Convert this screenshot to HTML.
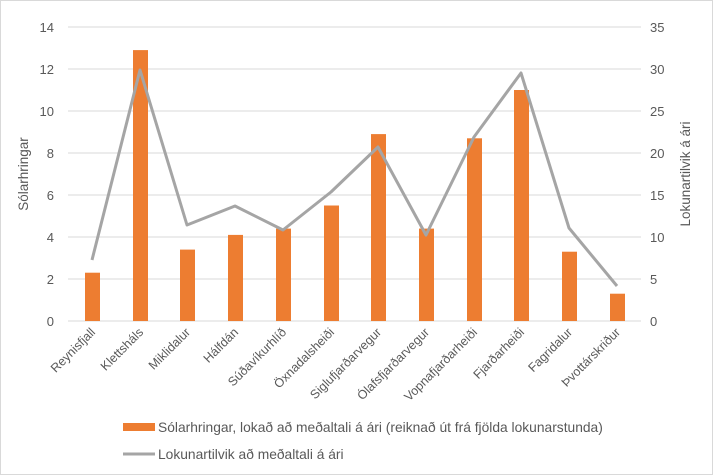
<!DOCTYPE html>
<html><head><meta charset="utf-8"><style>
html,body{margin:0;padding:0;background:#fff}
svg{display:block;font-family:"Liberation Sans",sans-serif}
</style></head><body>
<svg width="713" height="475" viewBox="0 0 713 475">
<rect x="0.5" y="0.5" width="712" height="474" fill="#fff" stroke="#d9d9d9"/>
<g stroke="#d9d9d9" stroke-width="1">
<line x1="68" x2="641" y1="27" y2="27"/>
<line x1="68" x2="641" y1="69" y2="69"/>
<line x1="68" x2="641" y1="111" y2="111"/>
<line x1="68" x2="641" y1="153" y2="153"/>
<line x1="68" x2="641" y1="195" y2="195"/>
<line x1="68" x2="641" y1="237" y2="237"/>
<line x1="68" x2="641" y1="279" y2="279"/>
<line x1="68" x2="641" y1="321" y2="321"/>
</g>
<g fill="#595959" font-size="13" text-anchor="end">
<text x="54" y="32">14</text><text x="54" y="74">12</text><text x="54" y="116">10</text>
<text x="54" y="158">8</text><text x="54" y="200">6</text><text x="54" y="242">4</text>
<text x="54" y="284">2</text><text x="54" y="326">0</text>
</g>
<g fill="#595959" font-size="13" text-anchor="start">
<text x="650" y="32">35</text><text x="650" y="74">30</text><text x="650" y="116">25</text>
<text x="650" y="158">20</text><text x="650" y="200">15</text><text x="650" y="242">10</text>
<text x="650" y="284">5</text><text x="650" y="326">0</text>
</g>
<text transform="translate(28,174) rotate(-90)" text-anchor="middle" fill="#595959" font-size="13.5">Sólarhringar</text>
<text transform="translate(690,174) rotate(-90)" text-anchor="middle" fill="#595959" font-size="13.5">Lokunartilvik á ári</text>
<g fill="#ed7d31">
<rect x="85" y="272.7" width="15" height="48.3"/>
<rect x="133" y="50.1" width="15" height="270.9"/>
<rect x="180" y="249.6" width="15" height="71.4"/>
<rect x="228" y="234.9" width="15" height="86.1"/>
<rect x="276" y="228.6" width="15" height="92.4"/>
<rect x="324" y="205.5" width="15" height="115.5"/>
<rect x="371" y="134.1" width="15" height="186.9"/>
<rect x="419" y="228.6" width="15" height="92.4"/>
<rect x="467" y="138.3" width="15" height="182.7"/>
<rect x="514" y="90" width="15" height="231"/>
<rect x="562" y="251.7" width="15" height="69.3"/>
<rect x="610" y="293.7" width="15" height="27.3"/>
</g>
<polyline fill="none" stroke="#a5a5a5" stroke-width="3" stroke-linejoin="round" points="92,260 140,70 187,225 235,206 283,230 331,192 378,147 426,235 474,137 521,73 569,228 617,286"/>
<g fill="#595959" font-size="12.5" text-anchor="end">
<text transform="translate(96,333) rotate(-45)">Reynisfjall</text>
<text transform="translate(144,333) rotate(-45)">Klettsháls</text>
<text transform="translate(191,333) rotate(-45)">Miklidalur</text>
<text transform="translate(239,333) rotate(-45)">Hálfdán</text>
<text transform="translate(287,333) rotate(-45)">Súðavíkurhlíð</text>
<text transform="translate(335,333) rotate(-45)">Öxnadalsheiði</text>
<text transform="translate(382,333) rotate(-45)">Siglufjarðarvegur</text>
<text transform="translate(430,333) rotate(-45)">Ólafsfjarðarvegur</text>
<text transform="translate(478,333) rotate(-45)">Vopnafjarðarheiði</text>
<text transform="translate(525,333) rotate(-45)">Fjarðarheiði</text>
<text transform="translate(573,333) rotate(-45)">Fagridalur</text>
<text transform="translate(621,333) rotate(-45)">Þvottárskriður</text>
</g>
<rect x="123" y="423" width="32" height="8" fill="#ed7d31"/>
<text x="158" y="432" fill="#595959" font-size="13.8">Sólarhringar, lokað að meðaltali á ári (reiknað út frá fjölda lokunarstunda)</text>
<line x1="123" x2="155" y1="454" y2="454" stroke="#a5a5a5" stroke-width="3"/>
<text x="158" y="459" fill="#595959" font-size="13.8">Lokunartilvik að meðaltali á ári</text>
</svg>
</body></html>
